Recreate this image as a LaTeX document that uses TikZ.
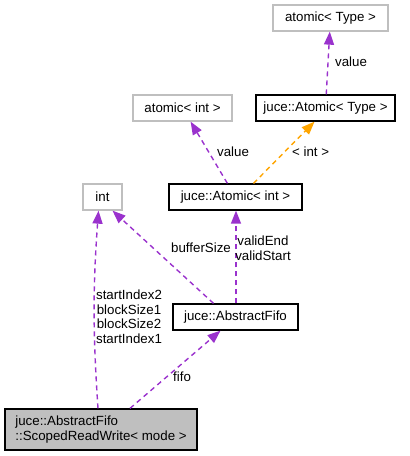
\documentclass[tikz,border=0pt]{standalone}
\usepackage{fontspec}
\setmainfont{Liberation Sans}
\usetikzlibrary{arrows.meta, positioning}
\definecolor{memberPurple}{HTML}{9A32CD}
\definecolor{tmplOrange}{HTML}{FFA500}
\definecolor{extGrey}{HTML}{BFBFBF}

\begin{document}
\begin{tikzpicture}[
    x=1pt, y=-1pt,
    every node/.style={font=\fontsize{13.3}{14.5}\selectfont, inner sep=0pt},
    extbox/.style={rectangle, draw=extGrey, line width=1.3pt, minimum height=26pt},
    classbox/.style={rectangle, draw=black, line width=1.3pt, minimum height=26pt},
    mainbox/.style={rectangle, draw=black, fill=extGrey, line width=1.3pt,
                    minimum width=192pt, minimum height=41pt, align=left},
    member/.style={draw=memberPurple, line width=1.4pt, dash pattern=on 5pt off 4pt,
                   -{Triangle[length=13pt, width=10pt]}},
    tmpl/.style={draw=tmplOrange, line width=1.4pt, dash pattern=on 5pt off 4pt,
                 -{Triangle[length=13pt, width=10pt]}},
    lbl/.style={align=center},
  ]
    \useasboundingbox (0,0) rectangle (410,456);

    % classes
    \node[extbox, minimum width=115pt] (atomicT) at (330.5,18) {atomic< Type >};
    \node[extbox, minimum width=99pt] (atomicI) at (182.5,108) {atomic< int >};
    \node[classbox, minimum width=139pt] (AtomicT) at (325.5,108) {juce::Atomic< Type >};
    \node[extbox, minimum width=39pt] (intN) at (102.5,197) {int};
    \node[classbox, minimum width=133pt] (AtomicI) at (235.5,197) {juce::Atomic< int >};
    \node[classbox, minimum width=125pt] (fifo) at (235.5,317) {juce::AbstractFifo};
    \node[mainbox] (srw) at (101,429.5) {juce::AbstractFifo\\::ScopedReadWrite< mode >};

    % relations
    \draw[member] (AtomicT) -- (atomicT);
    \draw[member] (AtomicI) -- (atomicI);
    \draw[tmpl] ([xshift=18pt]AtomicI.north) -- ([xshift=-11pt]AtomicT.south);
    \draw[member] ([xshift=-22pt]fifo.north) -- ([xshift=10pt]intN.south);
    \draw[member] ([xshift=0.5pt]fifo.north) -- ([xshift=0.5pt]AtomicI.south);
    \draw[member] ([xshift=-3pt]srw.north) to[bend left=4] ([xshift=-4pt]intN.south);
    \draw[member] ([xshift=29pt]srw.north) -- ([xshift=-15pt]fifo.south);

    % labels
    \node[lbl, anchor=west] (lValueT) at (335,62) {value};
    \node[lbl, anchor=west] (lValueI) at (217,152) {value};
    \node[lbl, anchor=west] (lInt) at (292,152) {< int >};
    \node[lbl, anchor=west] (lBuffer) at (171,248) {bufferSize};
    \node[lbl] (lValid) at (263,248) {validEnd\\validStart};
    \node[lbl] (lIndex) at (129,316.5) {startIndex2\\blockSize1\\blockSize2\\startIndex1};
    \node[lbl, anchor=west] (lFifo) at (173,377) {fifo};
  \end{tikzpicture}
\end{document}
